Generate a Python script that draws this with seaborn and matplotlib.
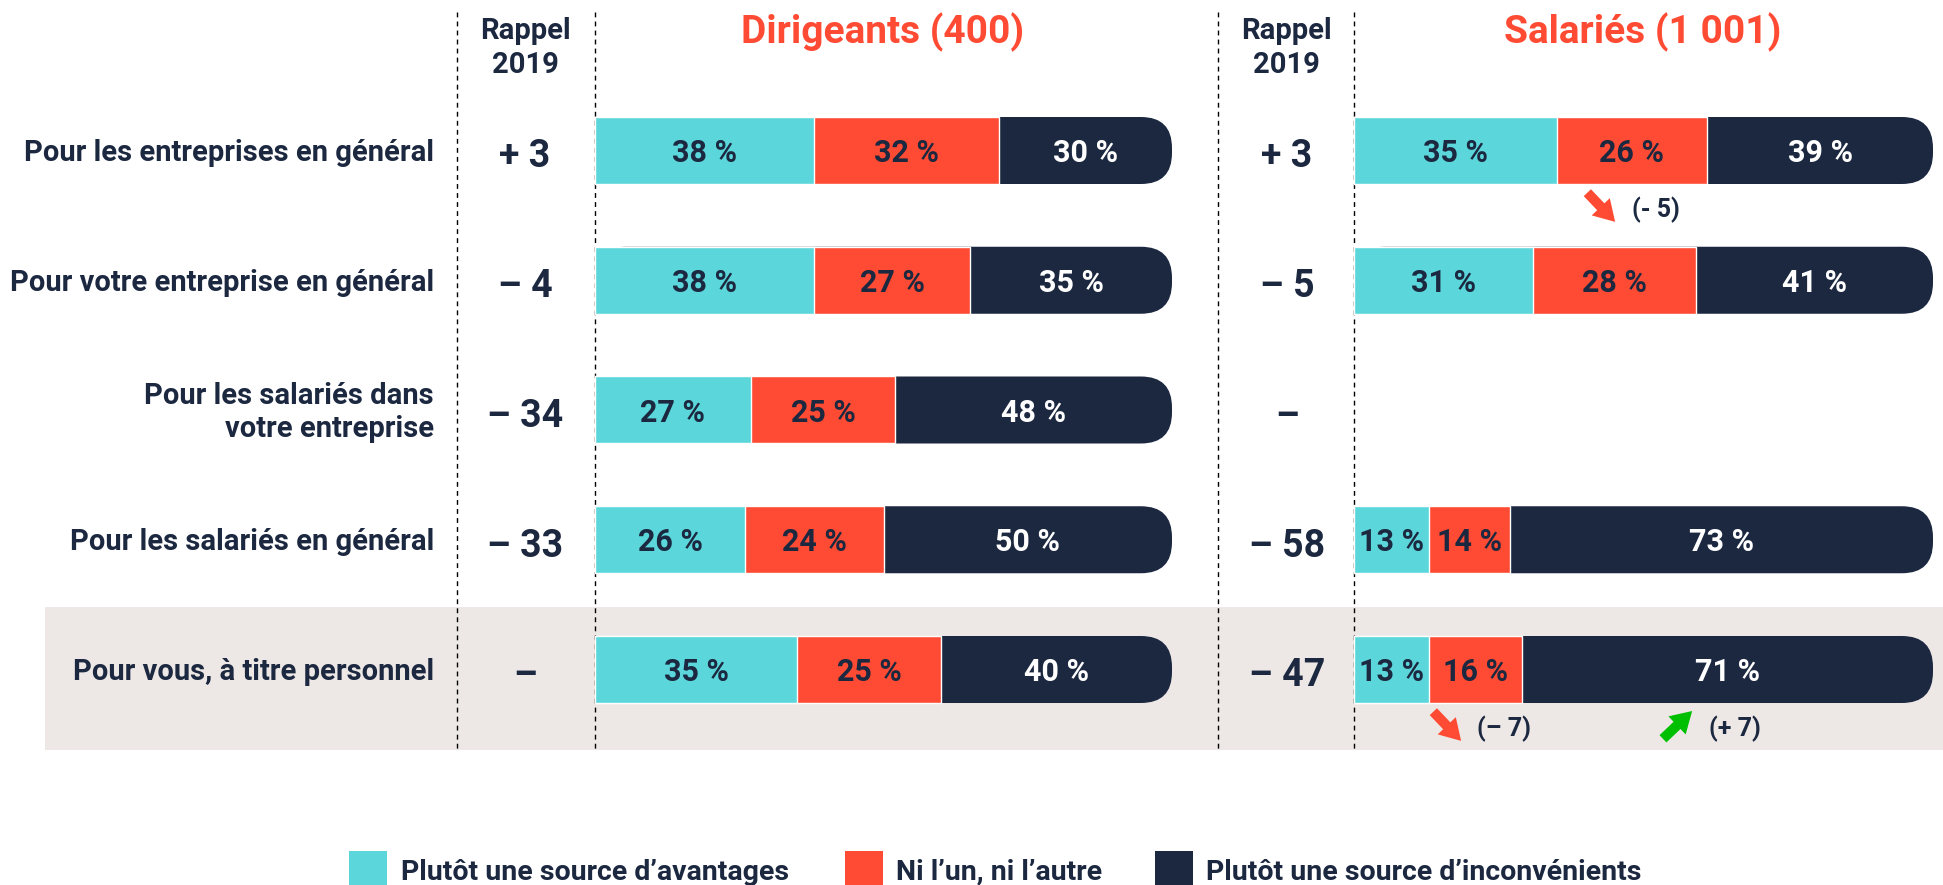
import pandas as pd
import matplotlib
matplotlib.use("Agg")
import matplotlib.pyplot as plt
import seaborn as sns
from matplotlib.patches import FancyBboxPatch, Rectangle
from matplotlib.transforms import blended_transform_factory

# Données
questions = ["Pour les entreprises en général", "Pour votre entreprise en général",
             "Pour les salariés dans\nvotre entreprise", "Pour les salariés en général",
             "Pour vous, à titre personnel"]
categories = ["Plutôt une source d’avantages", "Ni l’un, ni l’autre",
              "Plutôt une source d’inconvénients"]

dir_avantages = [38, 38, 27, 26, 35]
dir_ni = [32, 27, 25, 24, 25]
dir_inconv = [30, 35, 48, 50, 40]
dir_rappel = ["+ 3", "– 4", "– 34", "– 33", "–"]

sal_avantages = [35, 31, None, 13, 13]
sal_ni = [26, 28, None, 14, 16]
sal_inconv = [39, 41, None, 73, 71]
sal_rappel = ["+ 3", "– 5", "–", "– 58", "– 47"]

# évolutions salariés : (question, segment, texte, sens)
sal_evol = [(0, 1, "(- 5)", "down"), (4, 1, "(– 7)", "down"), (4, 2, "(+ 7)", "up")]

# Couleurs
CYAN = "#5BD6DA"
RED = "#FF4B33"
NAVY = "#1B2840"
GREEN = "#00BF00"
BAND = "#EDE8E6"
TXT = "#1B2840"

W, H = 1943, 885
sns.set_theme(style="white")
plt.rcParams["font.family"] = ["Roboto", "DejaVu Sans"]
plt.rcParams["font.weight"] = "bold"

fig = plt.figure(figsize=(W / 100, H / 100), dpi=100)
bg = fig.add_axes([0, 0, 1, 1])
bg.set_xlim(0, W)
bg.set_ylim(H, 0)
bg.axis("off")

# géométrie en pixels
ROW0, STEP = 150.5, 129.75
BAR_H = 67 / STEP


def px_axes(x0, x1):
    top = ROW0 - 0.5 * STEP
    bot = ROW0 + 4.5 * STEP
    return fig.add_axes([x0 / W, 1 - bot / H, (x1 - x0) / W, (bot - top) / H])


ax_dir = px_axes(595, 1172)
ax_sal = px_axes(1354, 1933)


def draw_panel(ax, av, ni, inc, x0, x1):
    df = pd.DataFrame({"question": questions, "av": av, "ni": ni, "inc": inc}).dropna()
    df["c1"] = df["av"]
    df["c2"] = df["av"] + df["ni"]
    df["c3"] = df["c2"] + df["inc"]
    for col, color in [("c3", NAVY), ("c2", RED), ("c1", CYAN)]:
        sns.barplot(data=df, x=col, y="question", order=questions, orient="h",
                    color=color, saturation=1, width=BAR_H, errorbar=None, ax=ax)
    ax.set_xlim(0, 100)
    ax.set_ylim(4.5, -0.5)
    ax.axis("off")
    ax.patch.set_alpha(0)

    # bout arrondi des barres foncées
    ppx = (x1 - x0) / 100
    aspect = ppx / STEP
    n = len(df)
    for p in list(ax.patches[:n]):
        x, y = p.get_xy()
        r = 31 / ppx
        fb = FancyBboxPatch((x, y), p.get_width(), p.get_height(),
                            boxstyle=f"round,pad=0,rounding_size={r}",
                            mutation_aspect=aspect, fc=NAVY, ec="none", zorder=0.9)
        p.remove()
        ax.add_patch(fb)

    for _, row in df.iterrows():
        i = questions.index(row["question"])
        left = 0
        for v, color in [(row["av"], TXT), (row["ni"], TXT), (row["inc"], "white")]:
            ax.text(left + v / 2, i + 0.02, f"{int(v)} %", ha="center", va="center",
                    fontsize=22, fontweight="bold", color=color, zorder=3)
            left += v


draw_panel(ax_dir, dir_avantages, dir_ni, dir_inconv, 595, 1172)
draw_panel(ax_sal, sal_avantages, sal_ni, sal_inconv, 1354, 1933)

tr = blended_transform_factory(bg.transData, ax_dir.transData)

# bande grisée
bg.add_patch(Rectangle((45, 4 - 0.48), W - 45, 1.1, transform=tr, fc=BAND, ec="none", zorder=0))

# lignes pointillées
bg.vlines([457, 595, 1218, 1354], 12, 750, colors="black", lw=1,
          linestyles=(0, (3.5, 3)), zorder=1)

# libellés et rappels
for i, q in enumerate(questions):
    bg.text(434, i + 0.02, q, transform=tr, ha="right", va="center", multialignment="right",
            fontsize=21, fontweight="bold", color=TXT, linespacing=1.2)
    bg.text(525, i + 0.05, dir_rappel[i], transform=tr, ha="center", va="center",
            fontsize=27, fontweight="bold", color=TXT)
    bg.text(1287, i + 0.05, sal_rappel[i], transform=tr, ha="center", va="center",
            fontsize=27, fontweight="bold", color=TXT)

# en-têtes
for xc in (525, 1286):
    bg.text(xc, 48, "Rappel\n2019", ha="center", va="center", fontsize=21,
            fontweight="bold", color=TXT, linespacing=1.3)
bg.text(883, 32, "Dirigeants (400)", ha="center", va="center", fontsize=28,
        fontweight="bold", color=RED)
bg.text(1643, 32, "Salariés (1 001)", ha="center", va="center", fontsize=28,
        fontweight="bold", color=RED)

# évolutions significatives
evol_pos = [(-2.9, 0.0), (-2.5, 0.2), (-6.1, -3.2)]
for (i, seg, txt, sens), (dx_arrow, dx_txt) in zip(sal_evol, evol_pos):
    vals = [sal_avantages[i], sal_ni[i], sal_inconv[i]]
    centre = sum(vals[:seg]) + vals[seg] / 2
    if sens == "down":
        head, off, col = (centre + dx_arrow, i + 0.55), (-20, 21), RED
    else:
        head, off, col = (centre + dx_arrow, i + 0.32), (-21, -20), GREEN
    ax_sal.annotate("", xy=head, xytext=off, textcoords="offset points",
                    annotation_clip=False,
                    arrowprops=dict(arrowstyle="simple,head_width=0.9,head_length=0.75,tail_width=0.36",
                                    mutation_scale=20, fc=col, ec="none", shrinkA=0, shrinkB=0))
    ax_sal.text(centre + dx_txt, i + 0.46, txt, ha="left", va="center", fontsize=18,
                fontweight="bold", color=TXT, clip_on=False)

# légende
for x_sq, x_txt, lab, col in zip([349, 845, 1155], [401, 896, 1206], categories, [CYAN, RED, NAVY]):
    bg.add_patch(Rectangle((x_sq, 851), 38, 40, fc=col, ec="none"))
    bg.text(x_txt, 872, lab, ha="left", va="center", fontsize=20.5, fontweight="bold", color=TXT)

fig.savefig("out.png", dpi=100)
